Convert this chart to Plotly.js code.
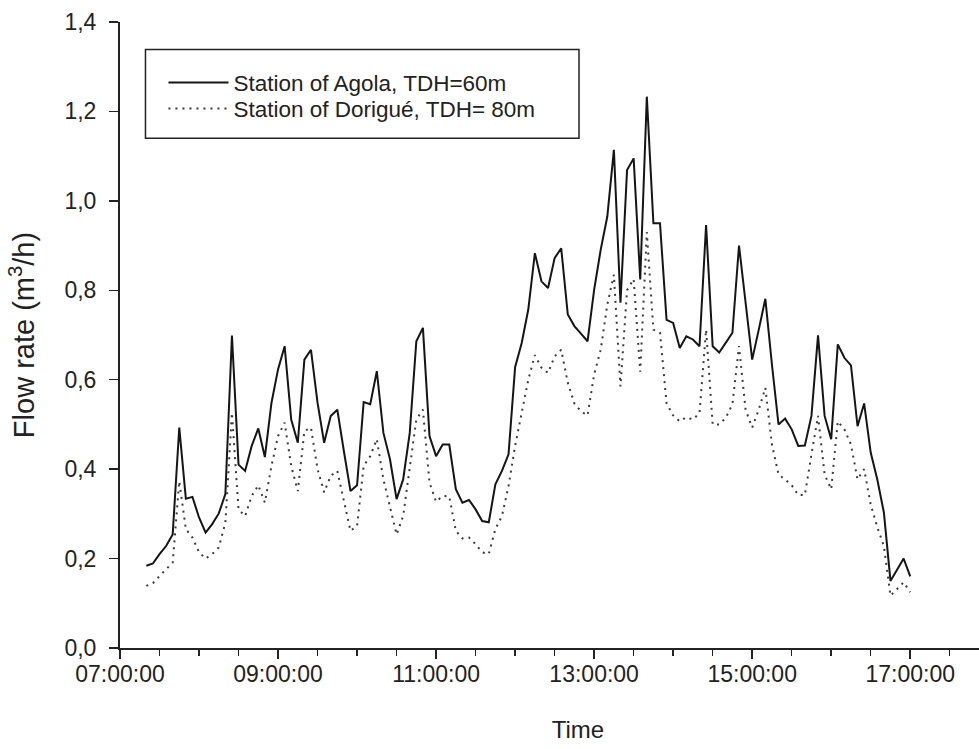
<!DOCTYPE html>
<html>
<head>
<meta charset="utf-8">
<script src="https://cdn.plot.ly/plotly-3.0.1.min.js"></script>
<style>
  html, body { margin: 0; padding: 0; background: #ffffff; overflow: hidden; }
  #chart { width: 1050px; height: 749px; }
</style>
</head>
<body>
<div id="chart"></div>
<script>
// Sampling times (every 5 minutes)
const times = [
  "07:20","07:25","07:30","07:35","07:40","07:45","07:50","07:55",
  "08:00","08:05","08:10","08:15","08:20","08:25","08:30","08:35","08:40","08:45","08:50","08:55",
  "09:00","09:05","09:10","09:15","09:20","09:25","09:30","09:35","09:40","09:45","09:50","09:55",
  "10:00","10:05","10:10","10:15","10:20","10:25","10:30","10:35","10:40","10:45","10:50","10:55",
  "11:00","11:05","11:10","11:15","11:20","11:25","11:30","11:35","11:40","11:45","11:50","11:55",
  "12:00","12:05","12:10","12:15","12:20","12:25","12:30","12:35","12:40","12:45","12:50","12:55",
  "13:00","13:05","13:10","13:15","13:20","13:25","13:30","13:35","13:40","13:45","13:50","13:55",
  "14:00","14:05","14:10","14:15","14:20","14:25","14:30","14:35","14:40","14:45","14:50","14:55",
  "15:00","15:05","15:10","15:15","15:20","15:25","15:30","15:35","15:40","15:45","15:50","15:55",
  "16:00","16:05","16:10","16:15","16:20","16:25","16:30","16:35","16:40","16:45","16:50","16:55",
  "17:00"
];

// Station of Agola, TDH=60m (m3/h)
const agola = [
  0.184,0.189,0.210,0.228,0.254,0.493,0.334,0.338,
  0.292,0.258,0.277,0.301,0.344,0.699,0.410,0.396,0.452,0.491,0.427,0.548,
  0.623,0.675,0.511,0.459,0.645,0.667,0.548,0.459,0.519,0.533,0.440,0.351,
  0.364,0.550,0.545,0.619,0.481,0.422,0.333,0.377,0.481,0.686,0.716,0.474,
  0.429,0.455,0.455,0.355,0.325,0.331,0.310,0.284,0.281,0.366,0.396,0.433,
  0.628,0.682,0.757,0.883,0.820,0.805,0.872,0.894,0.746,0.720,0.703,0.686,
  0.801,0.891,0.965,1.114,0.772,1.069,1.095,0.824,1.233,0.950,0.950,0.734,
  0.727,0.671,0.697,0.690,0.675,0.946,0.675,0.661,0.683,0.705,0.900,0.770,
  0.645,0.712,0.781,0.634,0.500,0.513,0.489,0.452,0.453,0.519,0.699,0.519,
  0.467,0.679,0.649,0.632,0.496,0.547,0.437,0.377,0.303,0.150,0.176,0.200,
  0.160
];

// Station of Dorigué, TDH= 80m (m3/h)
const dorigue = [
  0.139,0.145,0.161,0.176,0.191,0.373,0.266,0.247,
  0.214,0.200,0.210,0.225,0.280,0.526,0.310,0.295,0.340,0.364,0.325,0.407,
  0.474,0.504,0.407,0.351,0.485,0.493,0.400,0.348,0.385,0.396,0.325,0.262,
  0.273,0.407,0.429,0.467,0.377,0.318,0.254,0.295,0.407,0.511,0.533,0.370,
  0.327,0.340,0.339,0.262,0.245,0.247,0.232,0.214,0.210,0.266,0.295,0.362,
  0.452,0.526,0.600,0.655,0.627,0.615,0.652,0.667,0.593,0.547,0.529,0.520,
  0.612,0.667,0.768,0.835,0.585,0.800,0.825,0.618,0.930,0.712,0.705,0.547,
  0.520,0.507,0.516,0.511,0.525,0.712,0.500,0.500,0.515,0.545,0.675,0.533,
  0.493,0.533,0.582,0.455,0.388,0.377,0.364,0.342,0.342,0.433,0.519,0.388,
  0.355,0.507,0.489,0.455,0.377,0.400,0.321,0.270,0.228,0.117,0.132,0.147,
  0.125
];

const seriesNames = ["Station of Agola, TDH=60m", "Station of Dorigué, TDH= 80m"];
const yTickVals = [0, 0.2, 0.4, 0.6, 0.8, 1.0, 1.2, 1.4];

const day = "2000-01-01 ";
const xDates = times.map(t => day + t + ":00");

const FONT = "Liberation Sans, Arial, Helvetica, sans-serif";
const INK = "#222222";

const traces = [
  {
    x: xDates, y: agola, name: seriesNames[0], type: "scatter", mode: "lines",
    line: { color: "#151515", width: 2 }, legend: "legend"
  },
  {
    x: xDates, y: dorigue, name: seriesNames[1], type: "scatter", mode: "lines",
    line: { color: "#3a3a3a", width: 2, dash: "2px,5px" }, legend: "legend2"
  }
];

const W = 1050, H = 749;
const mL = 119.5, mR = 13.5, mT = 21.5, mB = 100.5;
const pw = W - mL - mR, ph = H - mT - mB;
const px = v => (v - mL) / pw;
const py = v => (H - mB - v) / ph;

const legendCommon = {
  xanchor: "left", yanchor: "top",
  bgcolor: "rgba(0,0,0,0)", borderwidth: 0,
  font: { family: FONT, size: 22.5, color: INK },
  itemwidth: 60, tracegroupgap: 0
};

const layout = {
  width: W, height: H,
  margin: { l: mL, r: mR, t: mT, b: mB, pad: 0 },
  paper_bgcolor: "#ffffff", plot_bgcolor: "#ffffff",
  separators: ",.",
  font: { family: FONT, size: 23, color: INK },
  showlegend: true,
  legend: Object.assign({ x: px(163), y: py(61) }, legendCommon),
  legend2: Object.assign({ x: px(163), y: py(87) }, legendCommon),
  xaxis: {
    type: "date",
    range: [day + "07:00:00", day + "18:35:30"],
    tick0: day + "07:00:00", dtick: 7200000,
    tickformat: "%H:%M:%S",
    ticks: "outside", ticklen: 9, tickwidth: 1.5, tickcolor: INK,
    showline: true, linecolor: INK, linewidth: 2,
    showgrid: false, zeroline: false,
    minor: { dtick: 1800000, ticks: "outside", ticklen: 6, tickwidth: 1.5, tickcolor: INK, showgrid: false },
    tickfont: { family: FONT, size: 23, color: INK },
    ticklabelstandoff: -5,
    title: { text: "Time", font: { family: FONT, size: 24, color: INK }, standoff: 36 }
  },
  yaxis: {
    range: [0, 1.4],
    tickmode: "array", tickvals: yTickVals,
    tickformat: ".1f",
    ticks: "outside", ticklen: 9, tickwidth: 1.5, tickcolor: INK,
    showline: true, linecolor: INK, linewidth: 2,
    showgrid: false, zeroline: false,
    tickfont: { family: FONT, size: 23, color: INK },
    ticklabelstandoff: 8,
    title: { text: "Flow rate (m<sup>3</sup>/h)", font: { family: FONT, size: 29, color: INK }, standoff: 21 }
  },
  shapes: [
    {
      type: "rect", xref: "paper", yref: "paper",
      x0: px(145), x1: px(579), y0: py(138), y1: py(49),
      line: { color: INK, width: 1.5 }, fillcolor: "rgba(0,0,0,0)"
    }
  ]
};

Plotly.newPlot("chart", traces, layout, { displayModeBar: false, staticPlot: true });
</script>
</body>
</html>
